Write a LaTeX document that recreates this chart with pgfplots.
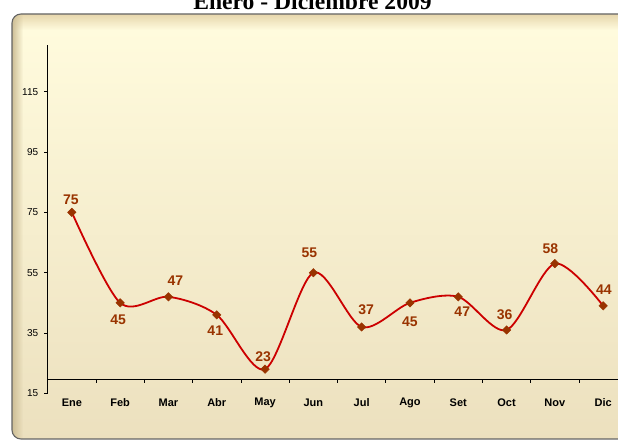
\documentclass[border=0pt]{standalone}
\usepackage{fontspec}
\setmainfont{Liberation Sans}
\newfontfamily\titlefont{Liberation Serif}
\usepackage{pgfplots}
\usepackage{pgfplotstable}
\pgfplotsset{compat=1.18}
\usetikzlibrary{fadings}
\definecolor{linered}{RGB}{204,0,0}
\definecolor{markbrown}{RGB}{153,51,0}
\definecolor{bgtop}{RGB}{255,251,221}
\definecolor{bgbot}{RGB}{236,224,190}
\definecolor{bevel}{RGB}{230,214,172}
\definecolor{bevelL}{RGB}{205,190,150}
\definecolor{edge}{RGB}{100,100,100}

\pgfplotstableread{
x y dx dy
0 75 -1 13
1 45 -2 -17
2 47 7 16.5
3 41 -1.5 -15.7
4 23 -2 12.5
5 55 -4 20
6 37 4.5 17
7 45 0 -19
8 47 4 -14.5
9 36 -2 15.5
10 58 -4.5 15
11 44 0.7 16
}\datatable

\begin{document}
\begin{tikzpicture}[x=1pt,y=1pt]
\begin{scope}
\clip[rounded corners=9pt] (12,2) rectangle (640,427);
\shade[top color=bgtop, bottom color=bgbot] (0,0) rectangle (640,412);
\fill[bgtop] (0,412) rectangle (640,427);
\shade[top color=bevel, bottom color=bgtop] (0,411) rectangle (640,427);
\fill[bevelL, path fading=east] (12,2) rectangle (23,427);
\end{scope}
\draw[edge, line width=1.1pt, rounded corners=9pt] (12,2) rectangle (640,427);
\node[font=\titlefont\bfseries\fontsize{23.6}{28}\selectfont, anchor=base] at (312.5,431) {Enero - Diciembre 2009};
\begin{axis}[
  at={(47.7pt,47.7pt)}, anchor=south west,
  scale only axis, width=579.6pt, height=348.3pt,
  xmin=-0.5, xmax=11.5, ymin=15, ymax=130.5,
  axis line style={draw=none},
  xtick={0,...,11},
  xticklabels={Ene,Feb,Mar,Abr,May,Jun,Jul,Ago,Set,Oct,Nov,Dic},
  xtick style={draw=none},
  xticklabel style={font=\bfseries\fontsize{11}{13}\selectfont, anchor=center, yshift=-5.7pt},
  ytick={15,35,55,75,95,115},
  ytick pos=left, tick align=outside, major tick length=3.5pt,
  ytick style={black, line width=0.7pt},
  yticklabel style={font=\fontsize{10}{12}\selectfont, anchor=east, xshift=-2.5pt},
  /pgf/number format/assume math mode=true,
  clip=false,
]
\draw[black, line width=0.8pt] (axis cs:-0.5,15) -- (axis cs:-0.5,130.5);
\draw[black, line width=0.8pt] (axis cs:-0.5,19.5) -- (axis cs:11.5,19.5);
\pgfplotsinvokeforeach{0.5,1.5,2.5,3.5,4.5,5.5,6.5,7.5,8.5,9.5,10.5}{
  \draw[black, line width=0.7pt] (axis cs:#1,19.5) -- ++(0pt,-3pt);
}
\addplot[linered, line width=1.8pt, smooth,
  mark=square*, mark size=3pt,
  mark options={rotate=45, fill=markbrown, draw=markbrown, line width=0.4pt, solid},
  nodes near coords, point meta=y,
  visualization depends on={\thisrow{dx} \as \mydx},
  visualization depends on={\thisrow{dy} \as \mydy},
  every node near coord/.append style={anchor=center, xshift=\mydx pt, yshift=\mydy pt,
     font=\bfseries\fontsize{14}{16}\selectfont, text=markbrown},
] table[x=x, y=y] {\datatable};
\end{axis}
\pgfresetboundingbox
\path[use as bounding box] (0,0) rectangle (618,441);
\end{tikzpicture}
\end{document}
